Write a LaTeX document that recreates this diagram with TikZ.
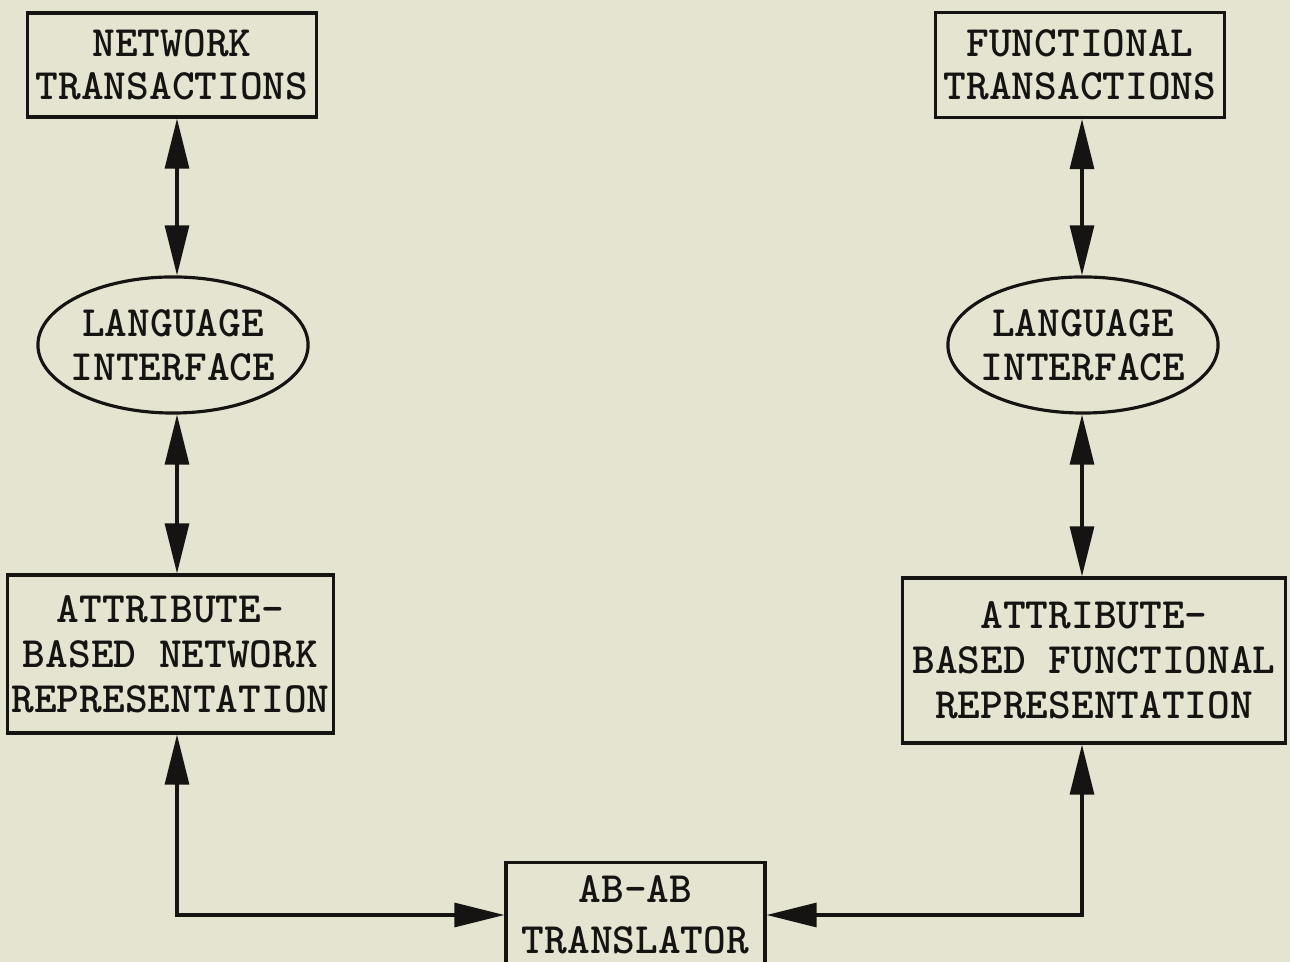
\documentclass[tikz,border=0pt]{standalone}
\usetikzlibrary{arrows.meta,shapes.geometric}
\definecolor{paper}{RGB}{229,228,209}
\definecolor{ink}{RGB}{22,20,18}
\begin{document}
\begin{tikzpicture}[x=0.01cm,y=-0.01cm,
  every node/.style={text=ink,font=\ttfamily\bfseries\fontsize{12.3}{12.3}\selectfont},
  box/.style={draw=ink,line width=0.9pt,rectangle,inner sep=0pt,align=center},
  lang/.style={draw=ink,line width=0.9pt,ellipse,inner sep=0pt,minimum width=2.70cm,minimum height=1.36cm},
  biarrow/.style={draw=ink,line width=0.9pt,{Triangle[length=5mm,width=2.4mm]}-{Triangle[length=5mm,width=2.4mm]}}]
\fill[paper] (0,0) rectangle (1290,962);
\useasboundingbox (0,0) rectangle (1290,962);
\coordinate (lx) at (177,0);
\coordinate (rx) at (1082,0);
\node[box,minimum width=2.88cm,minimum height=1.04cm] (nt) at (172,65) {NETWORK\\TRANSACTIONS};
\node[box,minimum width=2.89cm,minimum height=1.05cm] (ft) at (1080,65) {FUNCTIONAL\\TRANSACTIONS};
\node[lang] (li) at (173,345) {};
\node[align=center,font=\ttfamily\bfseries\fontsize{12.3}{12.5}\selectfont] (lit) at (li) {LANGUAGE\\INTERFACE};
\node[lang] (ri) at (1083,345) {};
\node[align=center,font=\ttfamily\bfseries\fontsize{12.3}{12.5}\selectfont] (rit) at (ri) {LANGUAGE\\INTERFACE};
\node[box,minimum width=3.25cm,minimum height=1.58cm,font=\ttfamily\bfseries\fontsize{12.3}{12.8}\selectfont] (abn) at (170.5,654) {ATTRIBUTE-\\BASED NETWORK\\REPRESENTATION};
\node[box,minimum width=3.82cm,minimum height=1.65cm,font=\ttfamily\bfseries\fontsize{12.3}{12.8}\selectfont] (abf) at (1094,660.5) {ATTRIBUTE-\\BASED FUNCTIONAL\\REPRESENTATION};
\node[box,minimum width=2.59cm,minimum height=1.05cm,font=\ttfamily\bfseries\fontsize{12.3}{14.5}\selectfont] (tr) at (635.5,915) {AB-AB\\TRANSLATOR};
\draw[biarrow] (nt.south -| lx) -- (li.north -| lx);
\draw[biarrow] (li.south -| lx) -- (abn.north -| lx);
\draw[biarrow] (ft.south -| rx) -- (ri.north -| rx);
\draw[biarrow] (ri.south -| rx) -- (abf.north -| rx);
\draw[biarrow] (abn.south -| lx) |- (tr.west);
\draw[biarrow] (abf.south -| rx) |- (tr.east);
\end{tikzpicture}
\end{document}
